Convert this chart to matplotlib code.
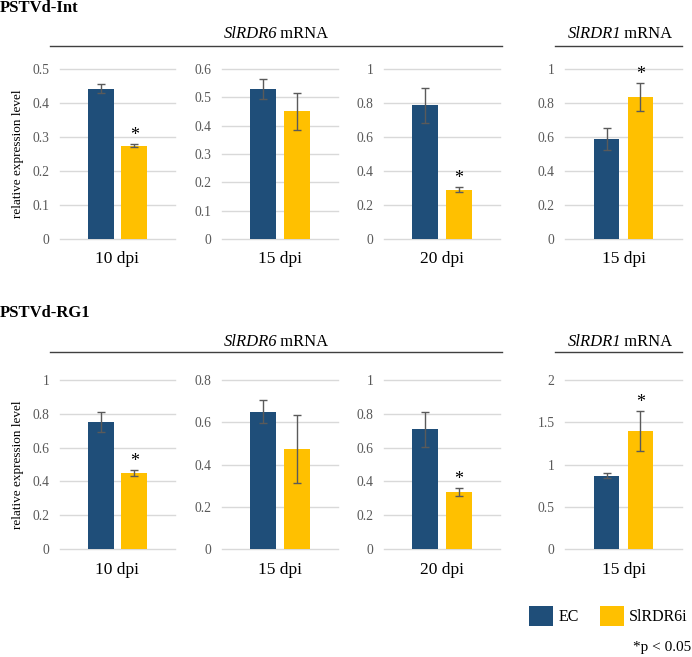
import matplotlib
matplotlib.use("Agg")
import matplotlib.pyplot as plt
from matplotlib.patches import Patch
from matplotlib.lines import Line2D
from matplotlib.ticker import FuncFormatter

plt.rcParams['font.family'] = ['Liberation Serif', 'DejaVu Serif']

groups = ["EC", "SlRDR6i"]
colors = ["#1F4E79", "#FFC000"]

# Row 1: PSTVd-Int
int_labels = ["10 dpi", "15 dpi", "20 dpi", "15 dpi"]
int_ec = [0.442, 0.528, 0.787, 0.589]
int_ec_err = [0.014, 0.035, 0.102, 0.064]
int_ri = [0.274, 0.451, 0.290, 0.833]
int_ri_err = [0.004, 0.065, 0.016, 0.083]
int_sig = [True, False, True, True]
int_ymax = [0.5, 0.6, 1.0, 1.0]
int_ystep = [0.1, 0.1, 0.2, 0.2]

# Row 2: PSTVd-RG1
rg1_labels = ["10 dpi", "15 dpi", "20 dpi", "15 dpi"]
rg1_ec = [0.752, 0.649, 0.709, 0.868]
rg1_ec_err = [0.058, 0.054, 0.103, 0.027]
rg1_ri = [0.449, 0.472, 0.337, 1.394]
rg1_ri_err = [0.017, 0.160, 0.022, 0.236]
rg1_sig = [True, False, True, True]
rg1_ymax = [1.0, 0.8, 1.0, 2.0]
rg1_ystep = [0.2, 0.2, 0.2, 0.5]

genes = ["SlRDR6", "SlRDR1"]

W, H = 692, 657
fig = plt.figure(figsize=(W / 100, H / 100), dpi=100)

panel_x = [(60, 175), (222, 338), (384, 500), (565, 682)]
rows = [
    dict(title="PSTVd-Int", y0=239, y1=69, line_y=46, head_y=33, title_y=8,
         labels=int_labels, ec=int_ec, ece=int_ec_err, ri=int_ri, rie=int_ri_err,
         sig=int_sig, ymax=int_ymax, ystep=int_ystep),
    dict(title="PSTVd-RG1", y0=549, y1=380, line_y=352, head_y=341, title_y=313,
         labels=rg1_labels, ec=rg1_ec, ece=rg1_ec_err, ri=rg1_ri, rie=rg1_ri_err,
         sig=rg1_sig, ymax=rg1_ymax, ystep=rg1_ystep),
]

def fx(px):
    return px / W

def fy(py):
    return 1 - py / H

grid_c = "#D9D9D9"
tick_c = "#595959"
headers = []

for r in rows:
    for i, (xl, xr) in enumerate(panel_x):
        ax = fig.add_axes([fx(xl), fy(r["y0"]), fx(xr - xl), (r["y0"] - r["y1"]) / H])
        vals = [r["ec"][i], r["ri"][i]]
        errs = [r["ece"][i], r["rie"][i]]
        xs = [0, 1]
        ax.bar(xs, vals, width=0.76, color=colors, edgecolor="none", zorder=2)
        ax.errorbar(xs, vals, yerr=errs, fmt="none", ecolor="#5A5A5A",
                    elinewidth=1.0, capsize=3, capthick=1.0, zorder=3)
        if r["sig"][i]:
            ax.annotate("*", (1, vals[1] + errs[1]), xytext=(0, 0),
                        textcoords="offset points", ha="center", va="bottom",
                        fontsize=13, color="black")
        ymax = r["ymax"][i]
        step = r["ystep"][i]
        n = int(round(ymax / step))
        ticks = [round(k * step, 3) for k in range(n + 1)]
        ax.set_ylim(0, ymax)
        ax.set_xlim(-1.227, 2.227)
        ax.set_yticks(ticks)
        ax.yaxis.set_major_formatter(FuncFormatter(lambda v, p: ("%g" % round(v, 3))))
        for t in ticks:
            ax.axhline(t, color=grid_c, lw=1.0, zorder=1, clip_on=False)
        for s in ax.spines.values():
            s.set_visible(False)
        ax.set_xticks([])
        ax.tick_params(axis="y", length=0, pad=7.5, labelsize=9.8, labelcolor=tick_c)
        ax.set_xlabel(r["labels"][i], fontsize=12.5, labelpad=9)
        ax.patch.set_alpha(0)
        if i == 0:
            ax.set_ylabel("relative expression level", fontsize=9.5, labelpad=6)

    fig.text(fx(0), fy(r["title_y"]), r["title"], fontsize=12, fontweight="bold",
             ha="left", va="center")
    fig.add_artist(Line2D([fx(50), fx(502)], [fy(r["line_y"])] * 2, color="#404040", lw=1))
    fig.add_artist(Line2D([fx(555), fx(682)], [fy(r["line_y"])] * 2, color="#404040", lw=1))
    for gname, cx in zip(genes, [276, 620]):
        t1 = fig.text(fx(cx), fy(r["head_y"]), gname, fontsize=12, style="italic",
                      ha="left", va="baseline")
        t2 = fig.text(fx(cx), fy(r["head_y"]), " mRNA", fontsize=12,
                      ha="left", va="baseline")
        headers.append((t1, t2, cx, r["head_y"]))

# position header pieces so the combined text is centred
fig.canvas.draw()
rend = fig.canvas.get_renderer()
for t1, t2, cx, hy in headers:
    w1 = t1.get_window_extent(rend).width - 2
    w2 = t2.get_window_extent(rend).width
    left = cx - (w1 + w2) / 2
    base = hy + 5
    t1.set_position((fx(left), fy(base)))
    t2.set_position((fx(left + w1), fy(base)))

handles = [Patch(facecolor=c, edgecolor="none", label=g) for c, g in zip(colors, groups)]
fig.legend(handles=handles, loc="center left", bbox_to_anchor=(fx(529), fy(616)),
           ncol=2, frameon=False, fontsize=11.5, handlelength=1.5, handleheight=1.5,
           handletextpad=0.35, columnspacing=1.3, borderpad=0, borderaxespad=0)
fig.text(fx(691), fy(647), "*p < 0.05", fontsize=11, ha="right", va="center")

fig.savefig("out.png", dpi=100)
